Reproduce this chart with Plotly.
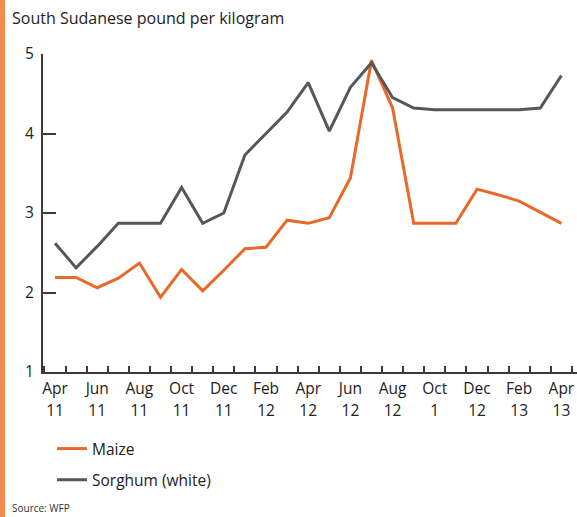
import plotly.graph_objects as go

months = ["Apr 11", "May 11", "Jun 11", "Jul 11", "Aug 11", "Sep 11", "Oct 11", "Nov 11",
          "Dec 11", "Jan 12", "Feb 12", "Mar 12", "Apr 12", "May 12", "Jun 12", "Jul 12",
          "Aug 12", "Sep 12", "Oct 12", "Nov 12", "Dec 12", "Jan 13", "Feb 13", "Mar 13", "Apr 13"]
maize = [2.19, 2.19, 2.06, 2.18, 2.37, 1.94, 2.29, 2.02, 2.28, 2.55, 2.57, 2.91, 2.87,
         2.94, 3.44, 4.92, 4.32, 2.87, 2.87, 2.87, 3.30, 3.23, 3.15, 3.01, 2.87]
sorghum = [2.62, 2.31, 2.58, 2.87, 2.87, 2.87, 3.32, 2.87, 3.00, 3.73, 4.00, 4.27, 4.64,
           4.03, 4.58, 4.89, 4.45, 4.32, 4.30, 4.30, 4.30, 4.30, 4.30, 4.32, 4.73]
tick_months = ["Apr", "Jun", "Aug", "Oct", "Dec", "Feb", "Apr", "Jun", "Aug", "Oct", "Dec", "Feb", "Apr"]
tick_years = ["11", "11", "11", "11", "11", "12", "12", "12", "12", "1", "12", "13", "13"]
y_ticks = [1, 2, 3, 4, 5]

ORANGE = "#E8692A"
GREY = "#555759"
AXIS = "#3a3a3a"
FONT = "Open Sans"

idx = list(range(len(months)))
tickpos = idx[::2]
W, H = 577, 517
L, R, T, B = 43, 0, 54, 145
pw, ph = W - L - R, H - T - B

def px(xp):
    return (xp - L) / pw

def py(yp):
    return (H - B - yp) / ph

fig = go.Figure()
fig.add_trace(go.Scatter(x=idx, y=maize, mode="lines", name="Maize",
                         line=dict(color=ORANGE, width=3), legendgroup="a", text=months))
fig.add_trace(go.Scatter(x=idx, y=sorghum, mode="lines", name="Sorghum (white)",
                         line=dict(color=GREY, width=3), legendgroup="b", text=months))
# invisible trace on secondary axis for year labels
fig.add_trace(go.Scatter(x=idx, y=sorghum, xaxis="x2", mode="lines", showlegend=False,
                         line=dict(width=0), hoverinfo="skip", opacity=0))

xr = [-0.57, 24.74]
fig.update_layout(
    width=W, height=H,
    margin=dict(l=L, r=R, t=T, b=B),
    paper_bgcolor="white", plot_bgcolor="white",
    font=dict(family=FONT, color="#222", size=15.5),
    title=dict(text="South Sudanese pound per kilogram", xref="container", yref="container",
               x=12 / W, xanchor="left", y=1 - 18 / H, yanchor="middle",
               font=dict(family=FONT, size=16, color="#222")),
    xaxis=dict(range=xr, tickmode="array", tickvals=tickpos, ticktext=tick_months,
               ticks="", showgrid=False, zeroline=False, showline=True,
               linecolor=AXIS, linewidth=2, tickfont=dict(size=15.5),
               ticklabelstandoff=1,
               minor=dict(tickmode="array", tickvals=[i + 0.5 for i in range(-1, 25)],
                          ticks="inside", ticklen=6, tickwidth=1.5, tickcolor=AXIS, showgrid=False)),
    xaxis2=dict(range=xr, overlaying="x", anchor="y", side="bottom", tickmode="array",
                tickvals=tickpos, ticktext=tick_years, ticks="", showgrid=False,
                zeroline=False, showline=False, tickfont=dict(size=15.5),
                ticklabelstandoff=27),
    yaxis=dict(range=[1, 5], tickmode="array", tickvals=y_ticks, ticks="inside",
               ticklen=13, tickwidth=2, tickcolor=AXIS, showgrid=False, zeroline=False,
               showline=True, linecolor=AXIS, linewidth=2, tickfont=dict(size=15.5),
               ticklabelstandoff=4),
    showlegend=True,
    legend=dict(x=px(52), y=py(432), xanchor="left", yanchor="top", orientation="v",
                traceorder="grouped", tracegroupgap=8, font=dict(size=15.5, family=FONT, color="#222"),
                bgcolor="rgba(0,0,0,0)"),
    shapes=[dict(type="rect", xref="paper", yref="paper", x0=px(0), x1=px(5), y0=py(H), y1=py(0),
                 fillcolor="#F28C4E", line=dict(width=0), layer="above")],
    annotations=[dict(text="Source: WFP", xref="paper", yref="paper", x=px(10), y=py(508),
                      xanchor="left", yanchor="middle", showarrow=False,
                      font=dict(size=10, family=FONT, color="#333"))],
)
fig.write_html("out.html", config={"displayModeBar": False},
               post_script="document.body.style.margin='0';document.body.style.overflow='hidden';")
